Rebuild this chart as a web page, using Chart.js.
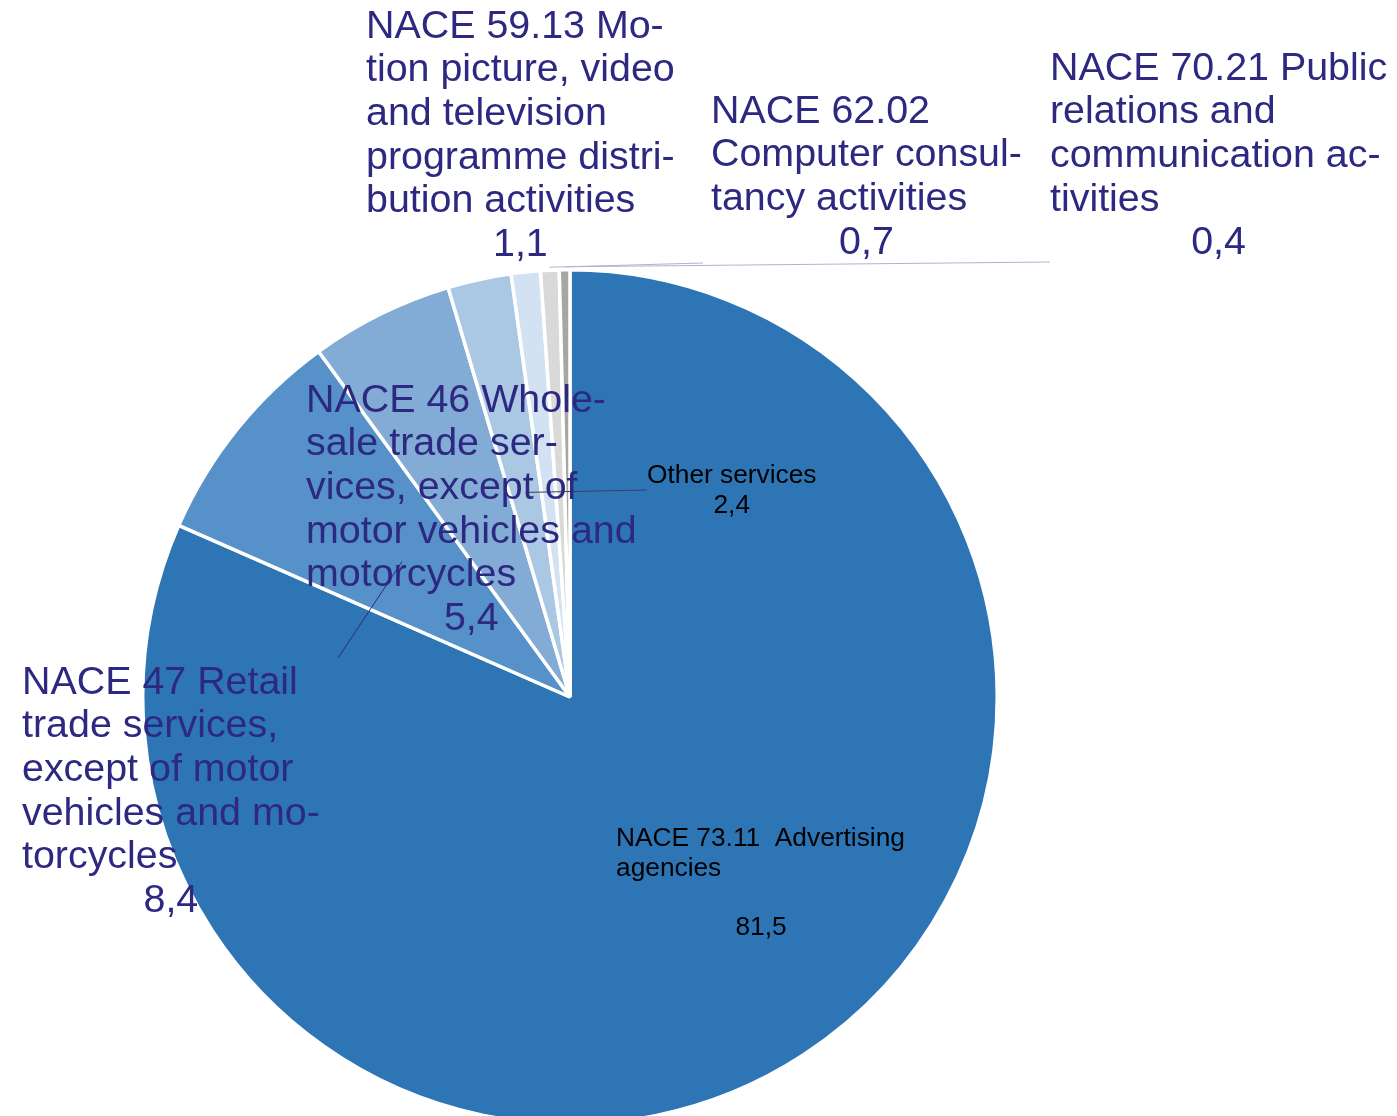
<!DOCTYPE html>
<html>
<head>
<meta charset="utf-8">
<script src="https://cdn.jsdelivr.net/npm/chart.js@4/dist/chart.umd.min.js"></script>
<style>
  html, body { margin: 0; padding: 0; background: #fff; overflow: hidden; }
  #wrap { position: relative; width: 1397px; height: 1130px; }
</style>
</head>
<body>
<div id="wrap"><canvas id="naceShares"></canvas></div>
<script>
// shares of turnover by NACE activity (%), clockwise from 12 o'clock
var categories = [
    'NACE 73.11  Advertising agencies',
    'NACE 47 Retail trade services, except of motor vehicles and motorcycles',
    'NACE 46 Wholesale trade services, except of motor vehicles and motorcycles',
    'Other services',
    'NACE 59.13 Motion picture, video and television programme distribution activities',
    'NACE 62.02 Computer consultancy activities',
    'NACE 70.21 Public relations and communication activities'
];
var shares = [81.5, 8.4, 5.4, 2.4, 1.1, 0.7, 0.4];
var sliceColors = ['#2e75b6', '#5691c9', '#82abd6', '#aac8e4', '#d2e2f2', '#d9d9d9', '#a6a6a6'];

// how each label is broken and where it sits (text layout only)
var labelLines = [
    ['NACE 73.11  Advertising', 'agencies'],
    ['NACE 47 Retail', 'trade services,', 'except of motor', 'vehicles and mo-', 'torcycles'],
    ['NACE 46 Whole-', 'sale trade ser-', 'vices, except of', 'motor vehicles and', 'motorcycles'],
    ['Other services'],
    ['NACE 59.13 Mo-', 'tion picture, video', 'and television', 'programme distri-', 'bution activities'],
    ['NACE 62.02', 'Computer consul-', 'tancy activities'],
    ['NACE 70.21 Public', 'relations and', 'communication ac-', 'tivities']
];
var labelPos = [
    {x: 616, y: 839, big: false, valueGap: 59, valueCenter: 761},
    {x: 22, y: 683, big: true},
    {x: 306, y: 401, big: true},
    {x: 647, y: 476, big: false, center: true},
    {x: 366, y: 27, big: true},
    {x: 711, y: 112, big: true},
    {x: 1050, y: 69, big: true}
];
// leader lines: [slice index, radius fraction at start, end x, end y]
var leaders = [
    [1, 0.505, 338, 658],
    [3, 0.49, 647, 490],
    [5, 1.0, 703, 263],
    [6, 1.0, 1050, 262]
];

function fmt(v) { return v.toFixed(1).replace('.', ','); }

var labelPlugin = {
    id: 'naceLabels',
    afterDatasetsDraw: function(chart) {
        var ctx = chart.ctx;
        var arcs = chart.getDatasetMeta(0).data;
        ctx.save();

        // leader lines
        ctx.lineWidth = 1;
        leaders.forEach(function(l) {
            var arc = arcs[l[0]];
            var p = arc.getProps(['x', 'y', 'startAngle', 'endAngle', 'outerRadius'], true);
            var mid = (p.startAngle + p.endAngle) / 2;
            var r = p.outerRadius * l[1] + (l[1] >= 1 ? 3 : 0);
            ctx.strokeStyle = l[1] >= 1 ? '#b4b1cf' : '#2e2a7c';
            if (l[0] === 3) ctx.strokeStyle = '#3a3f6a';
            ctx.beginPath();
            ctx.moveTo(p.x + Math.cos(mid) * r, p.y + Math.sin(mid) * r);
            ctx.lineTo(l[2], l[3]);
            ctx.stroke();
        });

        ctx.textBaseline = 'middle';
        labelLines.forEach(function(lines, i) {
            var pos = labelPos[i];
            var size = pos.big ? 39.4 : 26.3;
            var lh = pos.big ? 43.6 : 30;
            ctx.font = size + 'px "Liberation Sans", Arial, sans-serif';
            ctx.fillStyle = pos.big ? '#2d2880' : '#000000';
            var w = 0;
            lines.forEach(function(t) { w = Math.max(w, ctx.measureText(t).width); });
            lines.forEach(function(t, k) {
                if (pos.center) {
                    ctx.textAlign = 'center';
                    ctx.fillText(t, pos.x + w / 2, pos.y + k * lh);
                } else {
                    ctx.textAlign = 'left';
                    ctx.fillText(t, pos.x, pos.y + k * lh);
                }
            });
            ctx.textAlign = 'center';
            var vx = pos.valueCenter !== undefined ? pos.valueCenter : pos.x + w / 2;
            var vy = pos.y + (lines.length - 1) * lh + (pos.valueGap || lh);
            ctx.fillText(fmt(shares[i]), vx, vy);
        });
        ctx.restore();
    }
};

var ctx = document.getElementById('naceShares').getContext('2d');

var naceShares = new Chart(ctx, {
    type: 'pie',
    data: {
        labels: categories,
        datasets: [{
            data: shares,
            backgroundColor: sliceColors,
            borderColor: '#ffffff',
            borderWidth: 3.5
        }]
    },
    options: {
        responsive: true,
        maintainAspectRatio: false,
        animation: false,
        layout: {
            padding: {left: 140, right: 397, top: 268, bottom: 4}
        },
        plugins: {
            legend: {display: false},
            tooltip: {enabled: false}
        }
    },
    plugins: [labelPlugin]
});
</script>
</body>
</html>
